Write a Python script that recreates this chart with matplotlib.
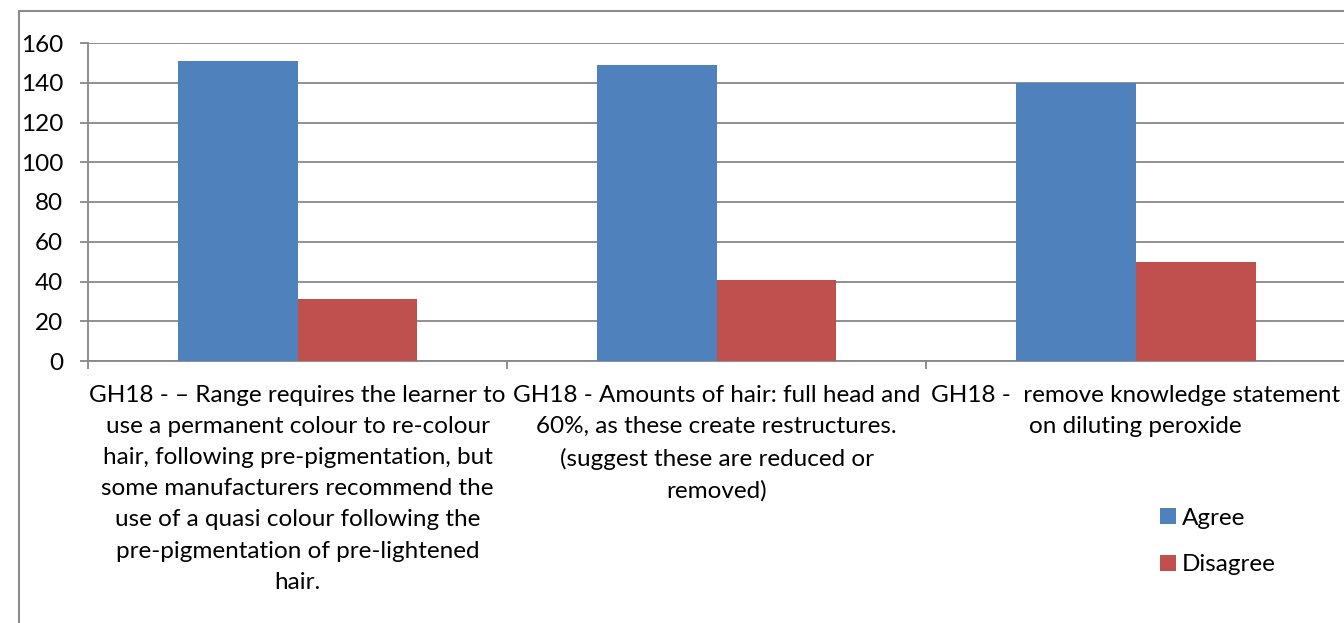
import numpy as np
import matplotlib
matplotlib.use("Agg")
import matplotlib.pyplot as plt
from matplotlib.patches import Rectangle

categories = [
    "GH18 - \u2013 Range requires the learner to\nuse a permanent colour to re-colour\nhair, following pre-pigmentation, but\nsome manufacturers recommend the\nuse of a quasi colour following the\npre-pigmentation of pre-lightened\nhair.",
    "GH18 - Amounts of hair: full head and\n60%, as these create restructures.\n(suggest these are reduced or\nremoved)",
    "GH18 -  remove knowledge statement\non diluting peroxide",
]
agree = [151, 149, 140]
disagree = [31, 41, 50]
yticks = [0, 20, 40, 60, 80, 100, 120, 140, 160]

plt.rcParams['font.family'] = ['Lato', 'DejaVu Sans']

W, H = 1344, 623
fig = plt.figure(figsize=(W / 100, H / 100), dpi=100)

# outer chart border (cropped on right and bottom)
fig.patches.append(Rectangle((19 / W, -0.1), 1.2, (H - 11) / H + 0.1,
                             transform=fig.transFigure, fill=False,
                             edgecolor='#8c8c8c', linewidth=1.5))

ax = fig.add_axes([88 / W, (H - 361) / H, (W - 88) / W + 0.001, (361 - 43) / H])

x = np.arange(len(categories))
w = 1 / 3.5
ax.bar(x - w / 2, agree, width=w, color='#4F81BD', label='Agree', zorder=3)
ax.bar(x + w / 2, disagree, width=w, color='#C0504D', label='Disagree', zorder=3)

ax.set_xlim(-0.5, 2.5)
ax.set_ylim(0, 160)
ax.set_yticks(yticks)
ax.yaxis.grid(True, color='#878787', linewidth=1.3, zorder=0)
ax.set_xticks(x)
ax.set_xticklabels(categories, fontsize=17.5, linespacing=1.6, va='top')
ax.set_xticks(np.arange(-0.5, 3, 1), minor=True)
ax.tick_params(axis='x', which='major', length=0, pad=17)
ax.tick_params(axis='x', which='minor', length=6, width=1.3, color='#878787', direction='out')
ax.tick_params(axis='y', length=6, width=1.3, color='#878787', labelsize=17.5, pad=12)
for s in ['top', 'right']:
    ax.spines[s].set_visible(False)
for s in ['left', 'bottom']:
    ax.spines[s].set_color('#878787')
    ax.spines[s].set_linewidth(1.3)

leg = fig.legend(loc='upper left', bbox_to_anchor=(1138 / W, (H - 486) / H),
                 frameon=False, fontsize=17.5, handlelength=0.65, handleheight=0.65,
                 handletextpad=0.25, labelspacing=1.05)

fig.savefig('out.png', dpi=100)
